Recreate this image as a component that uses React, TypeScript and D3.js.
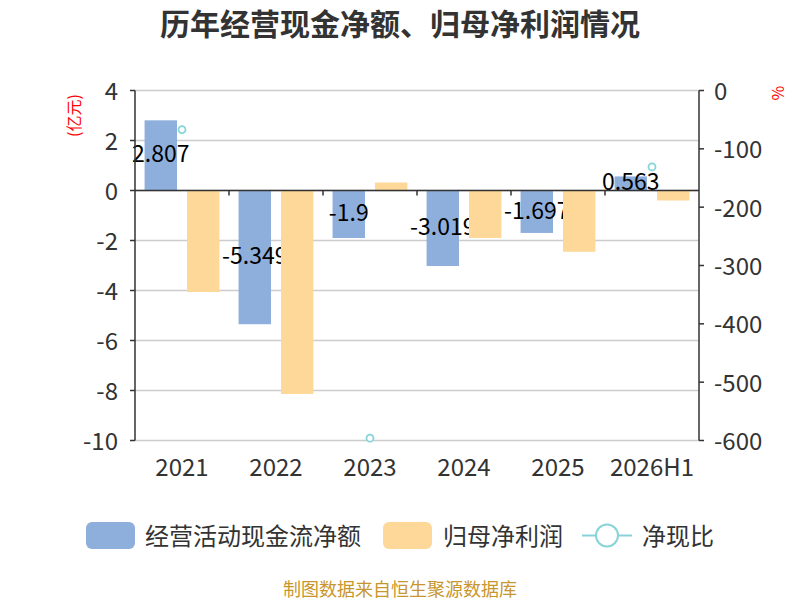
import { scaleBand, scaleLinear, line } from 'd3'

const categories = ['2021', '2022', '2023', '2024', '2025', '2026H1']
const cashFlow = [2.807, -5.349, -1.9, -3.019, -1.697, 0.563]
const netProfit = [-4.06, -8.14, 0.32, -1.9, -2.45, -0.4]
const cashRatio: (number | null)[] = [-67, null, -596, null, null, -131]
const leftTicks = [4, 2, 0, -2, -4, -6, -8, -10]
const rightTicks = [0, -100, -200, -300, -400, -500, -600]
const seriesNames = ['经营活动现金流净额', '归母净利润', '净现比']

const BLUE = '#8eaedb'
const ORANGE = '#fed898'
const TEAL = '#86d4d9'
const FONT = "'Noto Sans CJK SC', 'Noto Sans', sans-serif"

const App = () => {
  const left = 135
  const right = 699
  const top = 90.5
  const bottom = 440.5

  const x = scaleBand().domain(categories).range([left, right]).padding(0)
  const inner = scaleBand()
    .domain(['cash', 'profit'])
    .range([0, x.bandwidth()])
    .paddingInner(0.236)
    .paddingOuter(0.226)
  const yL = scaleLinear().domain([-10, 4]).range([bottom, top])
  const yR = scaleLinear().domain([-600, 0]).range([bottom, top])
  const zero = yL(0)

  const ratioLine = line<number | null>()
    .defined(d => d != null)
    .x((_, i) => x(categories[i])! + x.bandwidth() / 2)
    .y(d => yR(d as number))

  const blueBars = cashFlow.map((v, i) => (
    <rect key={'b' + i} x={x(categories[i])! + inner('cash')!} width={inner.bandwidth()}
      y={Math.min(yL(v), zero)} height={Math.abs(yL(v) - zero)} fill={BLUE} />
  ))
  // labels sit in the middle of each bar, a little raised
  const blueLabels = cashFlow.map((v, i) => (
    <text key={'bl' + i} x={x(categories[i])! + inner('cash')! + inner.bandwidth() / 2}
      y={(yL(v) + zero) / 2 - 3} textAnchor="middle" dominantBaseline="central"
      fontSize={23} fill="#000">{v}</text>
  ))
  const orangeBars = netProfit.map((v, i) => (
    <rect key={'o' + i} x={x(categories[i])! + inner('profit')!} width={inner.bandwidth()}
      y={Math.min(yL(v), zero)} height={Math.abs(yL(v) - zero)} fill={ORANGE} />
  ))

  return (
    <svg width={800} height={600} style={{ position: 'absolute', left: 0, top: 0, background: '#fff' }}
      fontFamily={FONT}>
      <text x={400} y={22} textAnchor="middle" dominantBaseline="central" fontSize={30}
        fontWeight="bold" fill="#333">历年经营现金净额、归母净利润情况</text>

      {/* grid */}
      {leftTicks.map(t => (
        <line key={'g' + t} x1={left} x2={right} y1={yL(t)} y2={yL(t)} stroke="#ccc" strokeWidth={1.5} />
      ))}

      {blueBars}
      {blueLabels}
      {orangeBars}

      {/* left axis */}
      <line x1={left} x2={left} y1={top} y2={bottom} stroke="#333" strokeWidth={1.5} />
      {leftTicks.map(t => (
        <g key={'lt' + t}>
          <line x1={left - 5} x2={left} y1={yL(t)} y2={yL(t)} stroke="#333" strokeWidth={1.5} />
          <text x={left - 17} y={yL(t) - 1} textAnchor="end" dominantBaseline="central" fontSize={24} fill="#333">{t}</text>
        </g>
      ))}
      <text transform={`translate(73,115.5) rotate(-90)`} textAnchor="middle" dominantBaseline="central"
        fontSize={16} fill="#f00">(亿元)</text>

      {/* right axis */}
      <line x1={right} x2={right} y1={top} y2={bottom} stroke="#333" strokeWidth={1.5} />
      {rightTicks.map(t => (
        <g key={'rt' + t}>
          <line x1={right} x2={right + 5} y1={yR(t)} y2={yR(t)} stroke="#333" strokeWidth={1.5} />
          <text x={right + 15} y={yR(t) - 1} textAnchor="start" dominantBaseline="central" fontSize={24} fill="#333">{t}</text>
        </g>
      ))}
      <text transform={`translate(777,93) rotate(-90)`} textAnchor="middle" dominantBaseline="central"
        fontSize={16} fill="#f00">%</text>

      {/* x axis at zero */}
      <line x1={left} x2={right} y1={zero} y2={zero} stroke="#333" strokeWidth={1.5} />
      {categories.map((c, i) => (
        <line key={'xt' + c} x1={x(c)!} x2={x(c)!} y1={zero} y2={zero + 5} stroke="#333" strokeWidth={1.5}
          opacity={i === 0 ? 0 : 1} />
      ))}
      {categories.map(c => (
        <text key={'xl' + c} x={x(c)! + x.bandwidth() / 2} y={465} textAnchor="middle"
          dominantBaseline="central" fontSize={24} fill="#333">{c}</text>
      ))}

      {/* ratio line */}
      <path d={ratioLine(cashRatio) ?? ''} fill="none" stroke={TEAL} strokeWidth={2} />
      {cashRatio.map((v, i) => v == null ? null : (
        <circle key={'p' + i} cx={x(categories[i])! + x.bandwidth() / 2} cy={yR(v)} r={3.5}
          fill="#fff" stroke={TEAL} strokeWidth={1.8} />
      ))}

      {/* legend */}
      <rect x={86} y={522} width={49} height={27} rx={6} fill={BLUE} />
      <text x={145} y={534} dominantBaseline="central" fontSize={24} fill="#333">{seriesNames[0]}</text>
      <rect x={383} y={522} width={49} height={27} rx={6} fill={ORANGE} />
      <text x={443} y={534} dominantBaseline="central" fontSize={24} fill="#333">{seriesNames[1]}</text>
      <line x1={582} x2={632} y1={535.5} y2={535.5} stroke={TEAL} strokeWidth={2} />
      <circle cx={607} cy={535.5} r={11} fill="#fff" stroke={TEAL} strokeWidth={2} />
      <text x={642} y={534} dominantBaseline="central" fontSize={24} fill="#333">{seriesNames[2]}</text>

      <text x={400} y={587.5} textAnchor="middle" dominantBaseline="central" fontSize={18}
        fill="#c8962e">制图数据来自恒生聚源数据库</text>
    </svg>
  )
}

export default App
